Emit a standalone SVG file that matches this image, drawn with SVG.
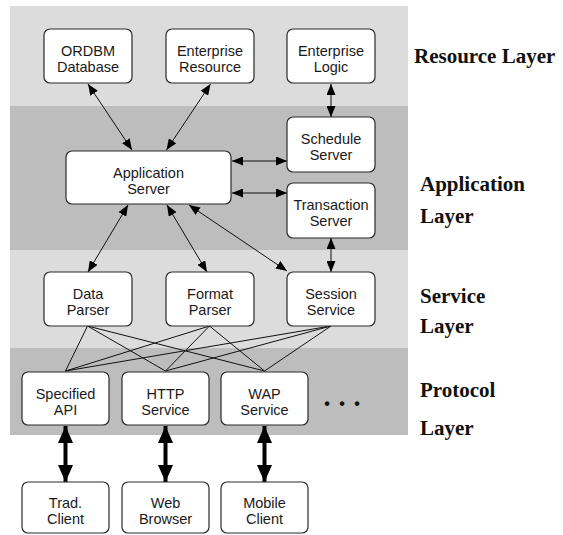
<svg xmlns="http://www.w3.org/2000/svg" width="563" height="535" viewBox="0 0 563 535">
  <style>
    .band-light { fill: #dcdcdc; }
    .band-dark { fill: #bdbdbd; }
    .box { fill: #ffffff; stroke: #2a2a2a; stroke-width: 1.2; }
    .lbl { font-family: "Liberation Sans", Arial, sans-serif; font-size: 14.5px; fill: #1a1a1a; text-anchor: middle; }
    .layer { font-family: "Liberation Serif", "Times New Roman", serif; font-size: 21px; font-weight: bold; fill: #111111; }
    .arrow { stroke: #111111; stroke-width: 1; fill: none; marker-start: url(#head); marker-end: url(#head); }
    .thick { stroke: #000000; stroke-width: 4; fill: none; marker-start: url(#bighead); marker-end: url(#bighead); }
    .link { stroke: #111111; stroke-width: 1; fill: none; }
    .dots { font-family: "Liberation Sans", Arial, sans-serif; font-size: 16px; font-weight: bold; fill: #111111; text-anchor: middle; }
  </style>
  <defs>
    <marker id="head" markerUnits="userSpaceOnUse" markerWidth="11" markerHeight="9" refX="11" refY="4.5" orient="auto-start-reverse">
      <path d="M0,0 L11,4.5 L0,9 z" fill="#000000"/>
    </marker>
    <marker id="bighead" markerUnits="userSpaceOnUse" markerWidth="17" markerHeight="15" refX="17" refY="7.5" orient="auto-start-reverse">
      <path d="M0,0 L17,7.5 L0,15 z" fill="#000000"/>
    </marker>
  </defs>

  <!-- layer bands -->
  <g id="bands">
    <rect class="band-light" x="10" y="6" width="398" height="100"/>
    <rect class="band-dark" x="10" y="106" width="398" height="144"/>
    <rect class="band-light" x="10" y="250" width="398" height="98"/>
    <rect class="band-dark" x="10" y="348" width="398" height="87"/>
  </g>

  <!-- layer titles -->
  <g id="layer-titles">
    <text class="layer" x="414" y="63">Resource Layer</text>
    <text class="layer" x="420" y="191">Application</text>
    <text class="layer" x="420" y="223">Layer</text>
    <text class="layer" x="420" y="303">Service</text>
    <text class="layer" x="420" y="333">Layer</text>
    <text class="layer" x="420" y="397">Protocol</text>
    <text class="layer" x="420" y="435">Layer</text>
  </g>

  <!-- connectors -->
  <g id="connectors">
    <line class="arrow" x1="88" y1="84" x2="132" y2="150"/>
    <line class="arrow" x1="210.5" y1="84" x2="166.5" y2="150"/>
    <line class="arrow" x1="331" y1="84" x2="331" y2="117"/>
    <line class="arrow" x1="232" y1="161" x2="287" y2="161"/>
    <line class="arrow" x1="232" y1="193" x2="287" y2="193"/>
    <line class="arrow" x1="331" y1="238" x2="331" y2="272"/>
    <line class="arrow" x1="128" y1="205" x2="88" y2="272"/>
    <line class="arrow" x1="167" y1="205" x2="207" y2="272"/>
    <line class="arrow" x1="189" y1="205" x2="287" y2="271"/>

    <line class="link" x1="87.5" y1="326" x2="65.5" y2="371"/>
    <line class="link" x1="87.5" y1="326" x2="165.5" y2="371"/>
    <line class="link" x1="87.5" y1="326" x2="264.5" y2="371"/>
    <line class="link" x1="209.5" y1="326" x2="65.5" y2="371"/>
    <line class="link" x1="209.5" y1="326" x2="165.5" y2="371"/>
    <line class="link" x1="209.5" y1="326" x2="264.5" y2="371"/>
    <line class="link" x1="331" y1="326" x2="65.5" y2="371"/>
    <line class="link" x1="331" y1="326" x2="165.5" y2="371"/>
    <line class="link" x1="331" y1="326" x2="264.5" y2="371"/>

    <line class="thick" x1="65.5" y1="426" x2="65.5" y2="482"/>
    <line class="thick" x1="165.5" y1="426" x2="165.5" y2="482"/>
    <line class="thick" x1="264.5" y1="426" x2="264.5" y2="482"/>
  </g>

  <!-- resource layer -->
  <g id="ordbm-database">
    <rect class="box" x="44" y="29" width="88" height="54" rx="6"/>
    <text class="lbl" x="88" y="56">ORDBM</text>
    <text class="lbl" x="88" y="72">Database</text>
  </g>
  <g id="enterprise-resource">
    <rect class="box" x="166" y="29" width="88" height="54" rx="6"/>
    <text class="lbl" x="210" y="56">Enterprise</text>
    <text class="lbl" x="210" y="72">Resource</text>
  </g>
  <g id="enterprise-logic">
    <rect class="box" x="287" y="29" width="88" height="54" rx="6"/>
    <text class="lbl" x="331" y="56">Enterprise</text>
    <text class="lbl" x="331" y="72">Logic</text>
  </g>

  <!-- application layer -->
  <g id="application-server">
    <rect class="box" x="66" y="151" width="165" height="53" rx="6"/>
    <text class="lbl" x="148.5" y="178">Application</text>
    <text class="lbl" x="148.5" y="194">Server</text>
  </g>
  <g id="schedule-server">
    <rect class="box" x="287" y="117" width="88" height="55" rx="6"/>
    <text class="lbl" x="331" y="144">Schedule</text>
    <text class="lbl" x="331" y="160">Server</text>
  </g>
  <g id="transaction-server">
    <rect class="box" x="287" y="183" width="88" height="55" rx="6"/>
    <text class="lbl" x="331" y="210">Transaction</text>
    <text class="lbl" x="331" y="226">Server</text>
  </g>

  <!-- service layer -->
  <g id="data-parser">
    <rect class="box" x="44" y="272" width="88" height="54" rx="6"/>
    <text class="lbl" x="88" y="299">Data</text>
    <text class="lbl" x="88" y="315">Parser</text>
  </g>
  <g id="format-parser">
    <rect class="box" x="166" y="272" width="88" height="54" rx="6"/>
    <text class="lbl" x="210" y="299">Format</text>
    <text class="lbl" x="210" y="315">Parser</text>
  </g>
  <g id="session-service">
    <rect class="box" x="287" y="272" width="88" height="54" rx="6"/>
    <text class="lbl" x="331" y="299">Session</text>
    <text class="lbl" x="331" y="315">Service</text>
  </g>

  <!-- protocol layer -->
  <g id="specified-api">
    <rect class="box" x="22" y="372" width="87" height="53" rx="6"/>
    <text class="lbl" x="65.5" y="399">Specified</text>
    <text class="lbl" x="65.5" y="415">API</text>
  </g>
  <g id="http-service">
    <rect class="box" x="122" y="372" width="87" height="53" rx="6"/>
    <text class="lbl" x="165.5" y="399">HTTP</text>
    <text class="lbl" x="165.5" y="415">Service</text>
  </g>
  <g id="wap-service">
    <rect class="box" x="221" y="372" width="87" height="53" rx="6"/>
    <text class="lbl" x="264.5" y="399">WAP</text>
    <text class="lbl" x="264.5" y="415">Service</text>
  </g>
  <g id="more-protocols">
    <text class="dots"><tspan x="327" y="409">•</tspan><tspan x="342" y="409">•</tspan><tspan x="357" y="409">•</tspan></text>
  </g>

  <!-- clients -->
  <g id="trad-client">
    <rect class="box" x="22" y="482" width="87" height="51" rx="6"/>
    <text class="lbl" x="65.5" y="508">Trad.</text>
    <text class="lbl" x="65.5" y="524">Client</text>
  </g>
  <g id="web-browser">
    <rect class="box" x="122" y="482" width="87" height="51" rx="6"/>
    <text class="lbl" x="165.5" y="508">Web</text>
    <text class="lbl" x="165.5" y="524">Browser</text>
  </g>
  <g id="mobile-client">
    <rect class="box" x="221" y="482" width="87" height="51" rx="6"/>
    <text class="lbl" x="264.5" y="508">Mobile</text>
    <text class="lbl" x="264.5" y="524">Client</text>
  </g>
</svg>
